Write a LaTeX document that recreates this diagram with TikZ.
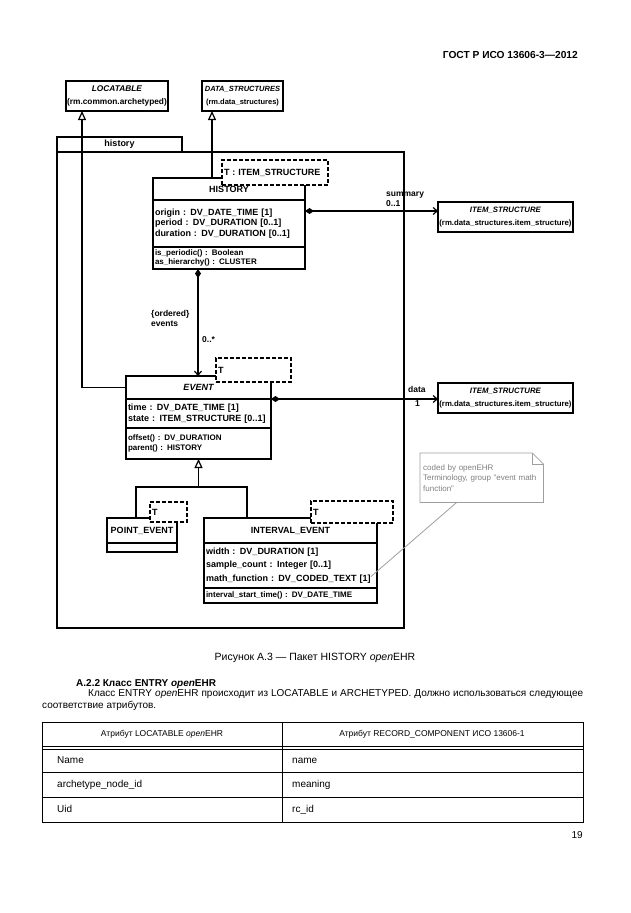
\documentclass[tikz,border=0pt]{standalone}
\usepackage{fontspec}
\setmainfont{Liberation Sans}
\usetikzlibrary{arrows.meta,positioning}

\tikzset{
  umlbox/.style={draw,line width=1.2pt,outer sep=0pt,inner xsep=2pt,inner ysep=0pt},
  clsname/.style={umlbox,anchor=north west,font=\bfseries\fontsize{9}{10}\selectfont},
  attrpart/.style={umlbox,below=0pt of #1,align=left,font=\bfseries\fontsize{9}{10.5}\selectfont},
  oppart/.style={umlbox,below=0pt of #1,align=left,font=\bfseries\fontsize{8}{9.5}\selectfont},
  tpar/.style={umlbox,dash pattern=on 4pt off 2pt,fill=white,anchor=north west,align=left,font=\bfseries\fontsize{9}{10}\selectfont},
  extcls/.style={draw,line width=1.2pt,outer sep=0pt,inner sep=0pt,align=center,minimum height=30pt,font=\bfseries\fontsize{#1}{13}\selectfont},
  inh/.style={line width=1.2pt,-{Triangle[open,width=8pt,length=9pt]}},
  comp/.style={line width=1.2pt,{Diamond[width=6pt,length=9pt]}-{Straight Barb[width=7pt,length=4pt]}},
  rolelbl/.style={inner sep=0pt,align=left,font=\bfseries\fontsize{8.5}{10}\selectfont},
  notegrey/.style={draw=gray!75,line width=0.8pt},
  pagetxt/.style={inner sep=0pt,font=\fontsize{#1}{12}\selectfont},
}

\begin{document}
\begin{tikzpicture}[x=1pt,y=-1pt]
  \fill[white] (0,0) rectangle (630,913);
  \useasboundingbox (0,0) rectangle (630,913);

  \node[pagetxt=10.2,anchor=east] (gost) at (578,55) {\bfseries ГОСТ Р ИСО 13606-3—2012};

  \node[umlbox,anchor=north west,minimum width=347pt,minimum height=476pt] (pkg) at (57,152) {};
  \node[umlbox,anchor=south west,minimum width=125pt,minimum height=15pt,font=\bfseries\fontsize{9}{10}\selectfont] (pkgtab) at (pkg.north west) {history};

  \node[extcls=8.3,minimum width=102pt] (loc) at (117,96) {\textit{LOCATABLE}\\(rm.common.archetyped)};
  \node[extcls=7.5,minimum width=81pt] (ds) at (242.5,96) {\textit{DATA\_STRUCTURES}\\(rm.data\_structures)};
  \node[extcls=7.8,minimum width=135pt] (ist1) at (505.5,217) {\textit{ITEM\_STRUCTURE}\\(rm.data\_structures.item\_structure)};
  \node[extcls=7.8,minimum width=135pt] (ist2) at (505.5,398) {\textit{ITEM\_STRUCTURE}\\(rm.data\_structures.item\_structure)};

  \node[clsname,minimum width=152pt,minimum height=22pt] (hname) at (153,178) {HISTORY};
  \node[attrpart=hname,text width=148pt,minimum height=47pt] (hattr) {origin : DV\_DATE\_TIME [1]\\period : DV\_DURATION [0..1]\\duration : DV\_DURATION [0..1]};
  \node[oppart=hattr,text width=148pt,minimum height=22pt] (hops) {is\_periodic() : Boolean\\as\_hierarchy() : CLUSTER};

  \node[clsname,font=\bfseries\itshape\fontsize{9}{10}\selectfont,minimum width=145pt,minimum height=23pt] (ename) at (126,376) {EVENT};
  \node[attrpart=ename,text width=141pt,minimum height=29pt] (eattr) {time : DV\_DATE\_TIME [1]\\state : ITEM\_STRUCTURE [0..1]};
  \node[oppart=eattr,text width=141pt,minimum height=31pt] (eops) {offset() : DV\_DURATION\\parent() : HISTORY};

  \node[clsname,minimum width=70pt,minimum height=25pt] (pename) at (107,518) {POINT\_EVENT};
  \node[attrpart=pename,minimum width=70pt,minimum height=9pt] (peattr) {};

  \node[clsname,minimum width=173pt,minimum height=25pt] (iename) at (204,518) {INTERVAL\_EVENT};
  \node[attrpart=iename,text width=169pt,minimum height=45pt,font=\bfseries\fontsize{9}{13.5}\selectfont] (ieattr) {width : DV\_DURATION [1]\\sample\_count : Integer [0..1]\\math\_function : DV\_CODED\_TEXT [1]};
  \node[oppart=ieattr,text width=169pt,minimum height=15pt] (ieops) {interval\_start\_time() : DV\_DATE\_TIME};

  \draw[inh] (ename.west) -| ([xshift=16pt]loc.south west);
  \draw[inh] ([xshift=59pt]hname.north west) -- ([xshift=59pt]hname.north west |- ds.south);
  \draw[comp] ([yshift=-11pt]hattr.north east) -- ([yshift=-11pt]hattr.north east -| ist1.west);
  \draw[comp] ([xshift=45pt]hops.south west) -- ([xshift=45pt]hops.south west |- ename.north);
  \draw[comp] (ename.south east) -- (ename.south east -| ist2.west);
  \coordinate (gj) at (198.5,487);
  \draw[inh] (gj) -- (eops.south);
  \draw[line width=1.2pt] ([xshift=29pt]pename.north west) |- (gj) -| ([xshift=43pt]iename.north west);

  \node[rolelbl,anchor=north west] (sumlbl) at (386,192) {summary\\0..1};
  \node[rolelbl,anchor=north west] (evlbl) at (151,310) {\{ordered\}\\events};
  \node[rolelbl,anchor=west] (evmult) at (202,340) {0..*};
  \node[rolelbl,anchor=west] (datalbl) at (408,389) {data};
  \node[rolelbl,anchor=west] (datamult) at (415,404) {1};

  \node[tpar,text width=102pt,minimum height=25pt] (htpar) at (222,160) {T : ITEM\_STRUCTURE};
  \node[tpar,text width=71pt,minimum height=24pt] (etpar) at (216,358) {T};
  \node[tpar,text width=33pt,minimum height=20pt] (petpar) at (150,502) {T};
  \node[tpar,text width=78pt,minimum height=22pt] (ietpar) at (311,501) {T};

  \node[anchor=north west,inner xsep=3pt,inner ysep=0pt,text width=117pt,minimum height=49pt,align=left,text=gray,font=\fontsize{8}{10.5}\selectfont] (note) at (420,453) {coded by openEHR\\Terminology, group "event math\\function"};
  \draw[notegrey] (note.north west) -- ([xshift=-11pt]note.north east) -- ([yshift=-11pt]note.north east) -- (note.south east) -- (note.south west) -- cycle;
  \draw[notegrey] ([xshift=-11pt]note.north east) |- ([yshift=-11pt]note.north east);
  \draw[notegrey] ([xshift=-25pt]note.south) -- ([xshift=-6pt,yshift=-11pt]ieattr.east);

  \node[pagetxt=10.5,anchor=base] (caption) at (315,660) {Рисунок А.3 — Пакет HISTORY \textit{open}EHR};
  \node[pagetxt=10,anchor=base west] (secttl) at (76,686) {\bfseries А.2.2 Класс ENTRY \textit{open}EHR};
  \node[pagetxt=10,anchor=base west] (body1) at (88,696) {\hbox to 495pt{Класс ENTRY \textit{open}EHR происходит из LOCATABLE и ARCHETYPED. Должно использоваться следующее}};
  \node[pagetxt=10,anchor=base west] (body2) at (42,708) {соответствие атрибутов.};

  \draw[line width=0.8pt] (42,722) rectangle (583,822);
  \foreach \ty in {746,749,772,797}
    \draw[line width=0.8pt] (42,\ty) -- (583,\ty);
  \draw[line width=0.8pt] (282,722) -- (282,822);
  \node[pagetxt=8.5] (th1) at (162,734) {Атрибут LOCATABLE \textit{open}EHR};
  \node[pagetxt=8.5] (th2) at (432,734) {Атрибут RECORD\_COMPONENT ИСО 13606-1};
  \foreach \ry/\lt/\rt [count=\i] in {763.5/Name/name, 787.5/archetype\_node\_id/meaning, 812.5/Uid/rc\_id} {
    \node[pagetxt=10,anchor=base west] (lcell\i) at (57,\ry) {\lt};
    \node[pagetxt=10,anchor=base west] (rcell\i) at (292,\ry) {\rt};
  }
  \node[pagetxt=10,anchor=east] (pgno) at (583,835) {19};
\end{tikzpicture}
\end{document}
